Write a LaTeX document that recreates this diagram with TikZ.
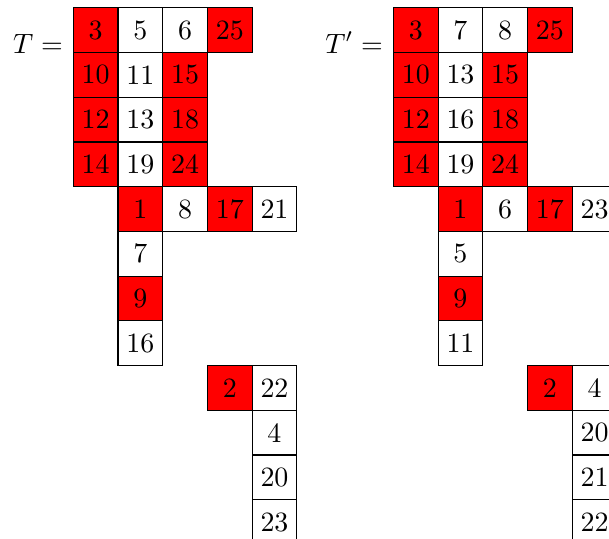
\documentclass[tikz,border=0pt]{standalone}
\usepackage{amsmath}
\usepackage{tikz}

\begin{document}
\begin{tikzpicture}[
  x=16pt, y=-16pt,
  cell/.style={rectangle, draw=black, line width=0.4pt, minimum size=16pt, inner sep=0pt, anchor=north west},
  lbl/.style={anchor=base east},
]
\clip (-1.626,-0.163) rectangle (11.994,11.877);

% Tableau T
\foreach \c/\r/\v/\f in {0/0/3/red, 1/0/5/white, 2/0/6/white, 3/0/25/red,
    0/1/10/red, 1/1/11/white, 2/1/15/red,
    0/2/12/red, 1/2/13/white, 2/2/18/red,
    0/3/14/red, 1/3/19/white, 2/3/24/red,
    1/4/1/red, 2/4/8/white, 3/4/17/red, 4/4/21/white,
    1/5/7/white, 1/6/9/red, 1/7/16/white,
    3/8/2/red, 4/8/22/white,
    4/9/4/white, 4/10/20/white, 4/11/23/white}
  \node[cell, fill=\f] (t\v) at (\c,\r) {\v};

% Tableau T'
\foreach \c/\r/\v/\f in {0/0/3/red, 1/0/7/white, 2/0/8/white, 3/0/25/red,
    0/1/10/red, 1/1/13/white, 2/1/15/red,
    0/2/12/red, 1/2/16/white, 2/2/18/red,
    0/3/14/red, 1/3/19/white, 2/3/24/red,
    1/4/1/red, 2/4/6/white, 3/4/17/red, 4/4/23/white,
    1/5/5/white, 1/6/9/red, 1/7/11/white,
    3/8/2/red, 4/8/4/white,
    4/9/20/white, 4/10/21/white, 4/11/22/white}
  \node[cell, fill=\f] (s\v) at (7.16+\c,\r) {\v};

% Labels
\node[lbl] at (t3.south west) {$T =$};
\node[lbl] at (s3.south west) {$T' =$};

\end{tikzpicture}
\end{document}
